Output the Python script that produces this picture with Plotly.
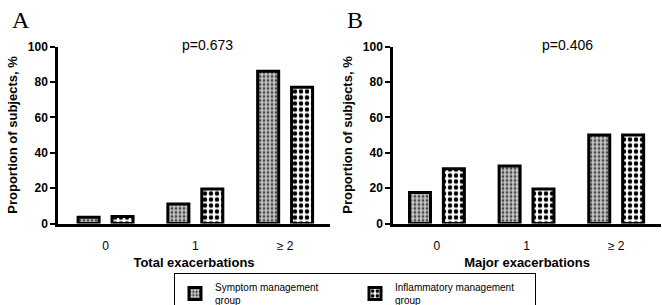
import plotly.graph_objects as go

categories = ["0", "1", "≥ 2"]
symptom_total = [3.5, 11, 86]
inflam_total = [4, 19.5, 77]
symptom_major = [17.5, 32.5, 50]
inflam_major = [31, 19.5, 50]
y_ticks = [0, 20, 40, 60, 80, 100]

fig = go.Figure()

sym_pattern = dict(shape=".", size=4, solidity=0.4, fgcolor="#4a4a4a", bgcolor="#c8c8c8", fillmode="replace")
inf_pattern = dict(shape=".", size=6, solidity=0.45, fgcolor="#000000", bgcolor="#ffffff", fillmode="replace")

def add(x, y, name, pat, xa, ya, show):
    fig.add_trace(go.Bar(x=x, y=y, name=name, xaxis=xa, yaxis=ya, showlegend=show,
                         marker=dict(color="#ffffff", pattern=pat, line=dict(color="black", width=3)),
                         offsetgroup=name))

add(categories, symptom_total, "Symptom management<br>group", sym_pattern, "x", "y", True)
add(categories, inflam_total, "Inflammatory management<br>group", inf_pattern, "x", "y", True)
add(categories, symptom_major, "Symptom management<br>group", sym_pattern, "x2", "y2", False)
add(categories, inflam_major, "Inflammatory management<br>group", inf_pattern, "x2", "y2", False)

W, H = 662, 305
def px(v): return v / W
def py(v): return (H - v) / H

ybot, ytop = py(223.5), py(46.5)

xcommon = dict(type="category", showline=True, linecolor="black", linewidth=2.5, ticks="",
               ticklabelstandoff=9,
               tickfont=dict(family="Liberation Sans, Arial", size=12, color="#000000"),
               title_font=dict(family="Liberation Sans, Arial", size=13, color="black"),
               showgrid=False, zeroline=False, fixedrange=True)
ycommon = dict(range=[0, 100], tickvals=y_ticks, showline=True, linecolor="black", linewidth=2.5,
               ticks="outside", ticklen=5, tickwidth=2, tickcolor="black",
               tickfont=dict(family="Liberation Sans, Arial", size=12, color="black", weight="bold"),
               title_font=dict(family="Liberation Sans, Arial", size=13, color="black", weight="bold"),
               showgrid=False, zeroline=False, title_standoff=8, fixedrange=True)

fig.update_layout(
    template="none",
    width=W, height=H, margin=dict(l=0, r=0, t=0, b=0, autoexpand=False),
    paper_bgcolor="white", plot_bgcolor="white",
    barmode="group", bargap=0.244, bargroupgap=0.38,
    xaxis=dict(xcommon, domain=[px(58), px(330)], range=[-0.53, 2.5], anchor="y",
               title=dict(text="<b>Total exacerbations</b>", standoff=7)),
    yaxis=dict(ycommon, domain=[ybot, ytop], anchor="x",
               title=dict(text="Proportion of subjects, %")),
    xaxis2=dict(xcommon, domain=[px(393), px(661)], range=[-0.49, 2.5], anchor="y2",
                title=dict(text="<b>Major exacerbations</b>", standoff=7)),
    yaxis2=dict(ycommon, domain=[ybot, ytop], anchor="x2",
                title=dict(text="Proportion of subjects, %")),
    legend=dict(orientation="h", x=px(174), y=py(273), xanchor="left", yanchor="top",
                bordercolor="black", borderwidth=1, bgcolor="white",
                font=dict(family="Liberation Sans, Arial", size=10, color="black"),
                itemwidth=30, tracegroupgap=0, entrywidth=135, entrywidthmode="pixels"),
    font=dict(family="Liberation Sans, Arial", color="black"),
)

fig.add_annotation(text="A", x=px(10), y=py(20), xref="paper", yref="paper", showarrow=False,
                   xanchor="left", yanchor="middle",
                   font=dict(family="Liberation Serif, Times New Roman", size=24, color="black"))
fig.add_annotation(text="B", x=px(345), y=py(20), xref="paper", yref="paper", showarrow=False,
                   xanchor="left", yanchor="middle",
                   font=dict(family="Liberation Serif, Times New Roman", size=24, color="black"))
fig.add_annotation(text="p=0.673", x=px(207), y=py(45), xref="paper", yref="paper", showarrow=False,
                   xanchor="center", yanchor="middle",
                   font=dict(family="Liberation Sans, Arial", size=14, color="black"))
fig.add_annotation(text="p=0.406", x=px(567), y=py(45), xref="paper", yref="paper", showarrow=False,
                   xanchor="center", yanchor="middle",
                   font=dict(family="Liberation Sans, Arial", size=14, color="black"))

fig.write_html("out.html", config={"displayModeBar": False},
               post_script="document.body.style.margin='0';document.body.style.overflow='hidden';")
